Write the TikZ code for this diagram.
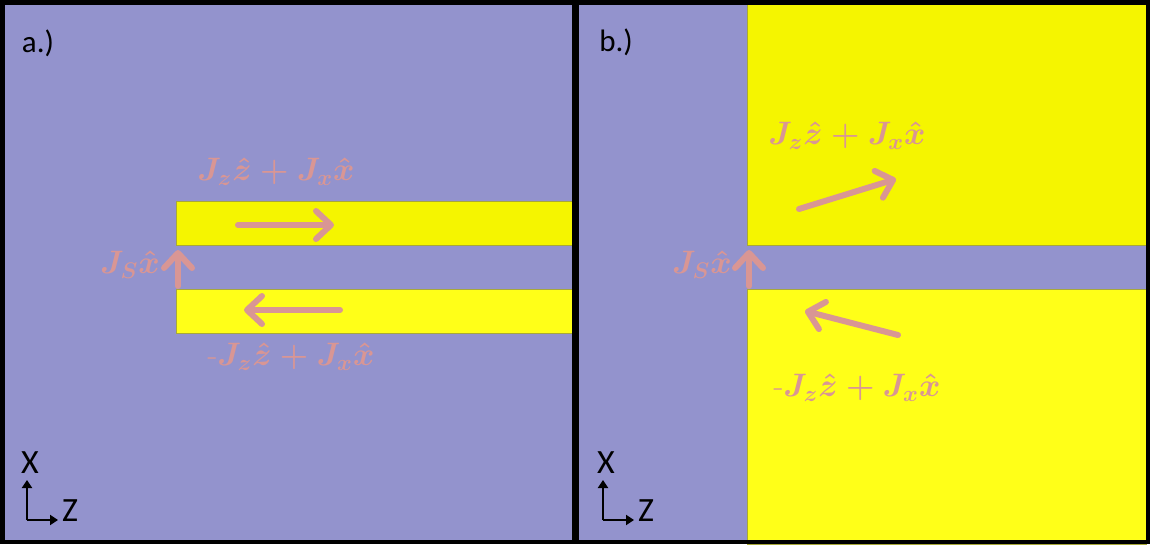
\documentclass[tikz,border=0pt]{standalone}
\usepackage{fontspec}
\newfontfamily\carl{Carlito}
\usetikzlibrary{arrows.meta}
\definecolor{bgp}{HTML}{9393CD}
\definecolor{yelA}{HTML}{F5F500}
\definecolor{yelB}{HTML}{FFFF18}
\definecolor{yedge}{HTML}{A8A838}
\definecolor{pinkc}{HTML}{D99694}
\newcommand\shlabel[4]{\node[lbl] (#1) at (#2,#3) {\scalebox{1.88}{\boldmath#4}};}
\begin{document}
\begin{tikzpicture}[x=1pt,y=-1pt,
  strip/.style={draw=yedge, line width=0.8pt},
  frame/.style={draw=black, line width=4.5pt},
  flow/.style={draw=pinkc, line width=6pt, line cap=round,
    -{Straight Barb[length=15pt,width=28pt,round]},
    preaction={draw=black, opacity=0.2, transform canvas={shift={(1.5pt,-1.5pt)}}}},
  axis/.style={draw=black, line width=2.6pt, -{Triangle[length=8pt,width=10pt]}},
  lbl/.style={text=pinkc, font=\fontsize{17.28}{20}\selectfont, inner sep=0pt},
  tag/.style={font=\carl\fontsize{31}{36}\selectfont, inner sep=0pt},
  ax/.style={font=\carl\fontsize{34}{40}\selectfont, inner sep=0pt}]
\useasboundingbox (0,0) rectangle (1150,544);
% backgrounds
\fill[bgp] (2,2) rectangle (1148,542);
% left panel strips
\filldraw[strip, fill=yelA] (176,201) rectangle (574,245);
\filldraw[strip, fill=yelB] (176,289) rectangle (574,333);
% right panel regions
\filldraw[strip, fill=yelA] (747,0) rectangle (1146,245);
\filldraw[strip, fill=yelB] (747,289) rectangle (1146,544);
% frames
\draw[frame] (2.25,2.25) rectangle (574,541.75);
\draw[frame] (576.5,2.25) rectangle (1147.75,541.75);
% panel tags
\node[tag] (ta) at (38,43) {a.)};
\node[tag] (tb) at (616,42) {b.)};
% left arrows
\coordinate (a1s) at (238,225); \coordinate (a1e) at (334,225);
\coordinate (a2s) at (340,310); \coordinate (a2e) at (244,310);
\coordinate (a3s) at (178,286); \coordinate (a3e) at (178,250);
\draw[flow] (a1s) -- (a1e);
\draw[flow] (a2s) -- (a2e);
\draw[flow] (a3s) -- (a3e);
% right arrows
\coordinate (b1s) at (799,209); \coordinate (b1e) at (896,179);
\coordinate (b2s) at (898,335); \coordinate (b2e) at (805,311);
\coordinate (b3s) at (749,286); \coordinate (b3e) at (749,250);
\draw[flow] (b1s) -- (b1e);
\draw[flow] (b2s) -- (b2e);
\draw[flow] (b3s) -- (b3e);
% labels
\shlabel{la}{276}{172}{$J_z\hat{z}+J_x\hat{x}$}
\shlabel{lb}{291}{357}{-$J_z\hat{z}+J_x\hat{x}$}
\shlabel{lc}{130}{265}{$J_S\hat{x}$}
\shlabel{ra}{847}{136}{$J_z\hat{z}+J_x\hat{x}$}
\shlabel{rb}{857}{388}{-$J_z\hat{z}+J_x\hat{x}$}
\shlabel{rc}{702}{265}{$J_S\hat{x}$}
% axes
\coordinate (o1) at (27,520); \coordinate (o1x) at (27,480); \coordinate (o1z) at (58,520);
\draw[axis] (o1) -- (o1x);
\draw[axis] (o1) -- (o1z);
\node[ax] (x1) at (30,463) {X};
\node[ax] (z1) at (70,511) {Z};
\coordinate (o2) at (603,520); \coordinate (o2x) at (603,480); \coordinate (o2z) at (634,520);
\draw[axis] (o2) -- (o2x);
\draw[axis] (o2) -- (o2z);
\node[ax] (x2) at (606,463) {X};
\node[ax] (z2) at (646,511) {Z};
\end{tikzpicture}
\end{document}
